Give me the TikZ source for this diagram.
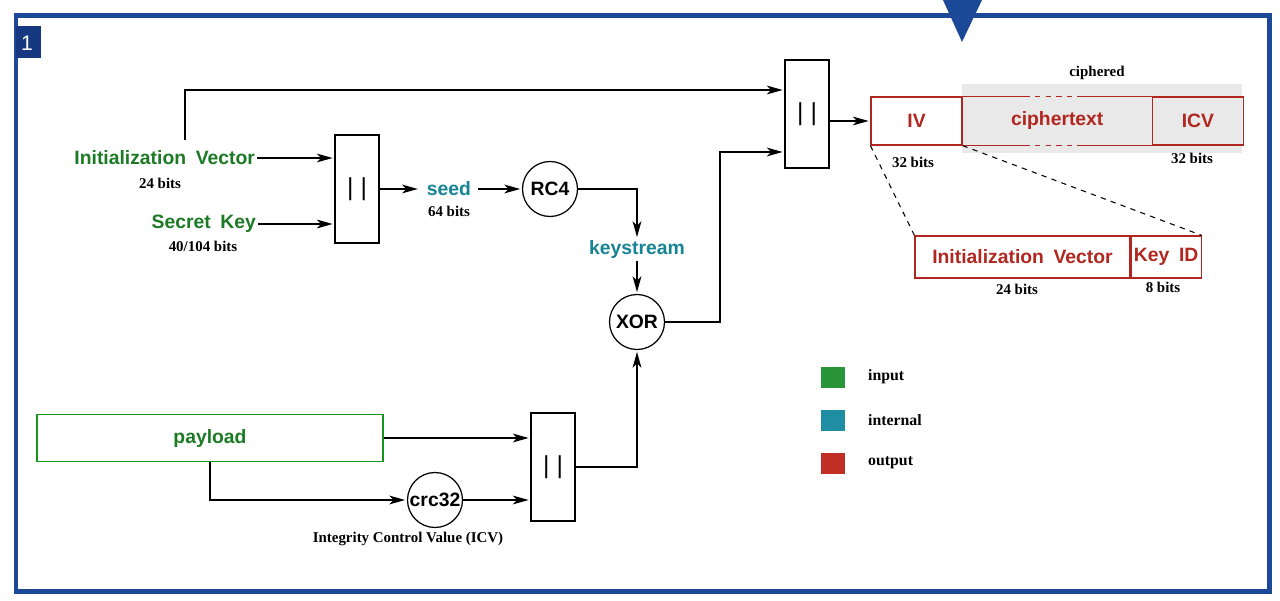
\documentclass[tikz,border=0pt]{standalone}
\usepackage{fontspec}
\setmainfont{Liberation Serif}
\setsansfont{Liberation Sans}
\usetikzlibrary{arrows.meta,positioning}

\definecolor{frameblue}{RGB}{28,72,152}
\definecolor{tagblue}{RGB}{22,56,128}
\definecolor{ingreen}{RGB}{28,122,36}
\definecolor{intteal}{RGB}{22,132,148}
\definecolor{outred}{RGB}{178,38,32}
\definecolor{leggreen}{RGB}{40,150,56}
\definecolor{legteal}{RGB}{32,142,162}
\definecolor{legred}{RGB}{192,46,36}

\begin{document}
\begin{tikzpicture}[
    x=0.02cm, y=-0.02cm,
    lbl/.style={font=\sffamily\bfseries\fontsize{11}{13}\selectfont, inner sep=1pt},
    bits/.style={font=\bfseries\fontsize{8.5}{10}\selectfont, inner sep=1pt},
    concat/.style={draw, rectangle, line width=0.7pt, minimum width=0.88cm, minimum height=2.16cm, font=\sffamily\fontsize{14}{14}\selectfont},
    op/.style={draw, circle, line width=0.7pt, minimum size=1.1cm, inner sep=0pt, font=\sffamily\bfseries\fontsize{11}{13}\selectfont},
    field/.style={draw=outred, rectangle, line width=0.7pt, minimum height=0.96cm, inner sep=0pt, text=outred, font=\sffamily\bfseries\fontsize{11}{13}\selectfont},
    swatch/.style={rectangle, minimum width=0.48cm, minimum height=0.42cm, inner sep=0pt},
    legtxt/.style={font=\bfseries\fontsize{9}{11}\selectfont, inner sep=0pt, anchor=west},
    pointer/.style={->, >={Stealth[length=9pt,width=5pt,inset=2.5pt]}, line width=0.75pt, shorten >=1pt}
]
    \useasboundingbox (0,0) rectangle (1280,601);

    % Frame
    \draw[frameblue, line width=0.1cm] (16,16) rectangle (1269,591);
    \fill[tagblue] (16,26) rectangle (41,58);
    \node[text=white, font=\sffamily\fontsize{12}{14}\selectfont] (tag) at (27,43) {1};
    \fill[frameblue] (943,0) -- (982,0) -- (962,42) -- cycle;

    % Shaded ciphered part
    \fill[gray!17] (962,84) rectangle (1242,153);

    % Inputs
    \node[lbl, text=ingreen, anchor=east] (ivlbl) at (257,158) {Initialization\enspace Vector};
    \node[bits] (ivbits) at (160,183) {24 bits};
    \node[lbl, text=ingreen, anchor=east] (sklbl) at (258,224) {Secret\enspace Key};
    \node[bits] (skbits) at (203,246) {40/104 bits};
    \node[draw=ingreen!80!green, rectangle, line width=0.7pt, minimum width=6.92cm, minimum height=0.94cm, lbl, text=ingreen] (payload) at (210,438) {payload};

    % Seed and keystream
    \node[concat] (cat1) at (357,189) {|\hspace{4pt}|};
    \node[lbl, text=intteal] (seed) at (449,189) {seed};
    \node[bits] (seedbits) at (449,211) {64 bits};
    \node[op] (rc4) at (550,189) {RC4};
    \node[lbl, text=intteal] (kstream) at (637,250) {keystream};
    \node[op] (xor) at (637,322) {XOR};

    % Payload and ICV
    \node[op] (crc) at (435,500) {crc32};
    \node[bits] (icvtxt) at (408,539) {Integrity Control Value (ICV)};
    \node[concat] (cat3) at (553,467) {|\hspace{4pt}|};

    % Output frame
    \node[concat] (cat2) at (807,114) {|\hspace{4pt}|};
    \node[field, minimum width=1.82cm] (ivf) at (916.5,121) {IV};
    \node[field, draw=none, minimum width=3.76cm, right=0pt of ivf] (ctf) {ciphertext};
    \node[field, minimum width=1.82cm, right=0pt of ctf] (icvf) {ICV};
    \node[bits] (cipher) at (1097,73) {ciphered};
    \node[bits] (ivfbits) at (913,162) {32 bits};
    \node[bits] (icvbits) at (1192,158) {32 bits};

    % ciphertext edges
    \draw[outred, line width=0.7pt] (ctf.north west) -- ++(62,0) coordinate (ct1);
    \draw[outred, line width=0.7pt, dashed] (ct1) -- ++(56,0) coordinate (ct2);
    \draw[outred, line width=0.7pt] (ct2) -- (ctf.north east);
    \draw[outred, line width=0.7pt] (ctf.south west) -- ++(62,0) coordinate (cb1);
    \draw[outred, line width=0.7pt, dashed] (cb1) -- ++(56,0) coordinate (cb2);
    \draw[outred, line width=0.7pt] (cb2) -- (ctf.south east);

    % IV detail
    \node[field, minimum width=4.3cm, minimum height=0.84cm] (ivf2) at (1022.5,257) {Initialization\enspace Vector};
    \node[field, minimum width=1.4cm, minimum height=0.84cm, right=0pt of ivf2] (keyid) {Key\enspace ID};
    \node[bits] (ivf2bits) at (1017,289) {24 bits};
    \node[bits] (keyidbits) at (1163,287) {8 bits};
    \draw[dashed, line width=0.6pt] (ivf.south west) -- (ivf2.north west);
    \draw[dashed, line width=0.6pt] (ivf.south east) -- (keyid.north east);

    % Legend
    \node[swatch, fill=leggreen] (sqin) at (833,377) {};
    \node[swatch, fill=legteal] (sqint) at (833,420) {};
    \node[swatch, fill=legred] (sqout) at (833,463) {};
    \node[legtxt, right=0.45cm of sqin] (lin) {input};
    \node[legtxt, right=0.45cm of sqint] (lint) {internal};
    \node[legtxt, right=0.45cm of sqout] (lout) {output};

    % Links
    \coordinate (ivtap) at (185,140);
    \draw[pointer] (ivlbl.east) -- (ivlbl.east -| cat1.west);
    \draw[pointer] (sklbl.east) -- (sklbl.east -| cat1.west);
    \draw[pointer] (ivtap) |- ([yshift=0.48cm]cat2.west);
    \draw[pointer, shorten >=4pt] (cat1.east) -- (seed.west);
    \draw[pointer, shorten <=3pt] (seed.east) -- (rc4.west);
    \draw[pointer] (rc4.east) -| (kstream.north);
    \draw[pointer] (kstream.south) -- (xor.north);
    \draw[pointer] (xor.east) -- ++(55,0) |- ([yshift=-0.76cm]cat2.west);
    \draw[pointer] (ivf.west -| cat2.east) -- (ivf.west);

    \draw[pointer] (payload.east) -- (payload.east -| cat3.west);
    \draw[pointer] (payload.south) |- (crc.west);
    \draw[pointer] (crc.east) -- (crc.east -| cat3.west);
    \draw[pointer] (cat3.east) -| (xor.south);
\end{tikzpicture}
\end{document}
